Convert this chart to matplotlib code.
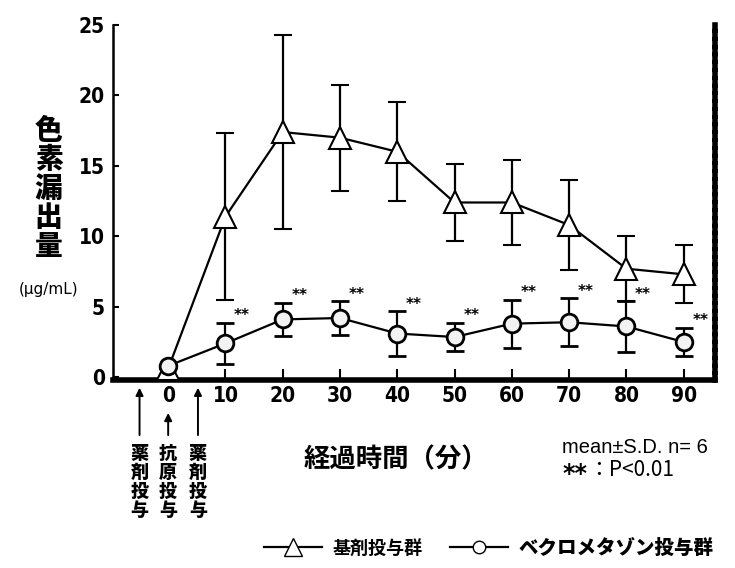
import matplotlib.pyplot as plt
from matplotlib.lines import Line2D

# data
times = [0, 10, 20, 30, 40, 50, 60, 70, 80, 90]
base_mean = [0.6, 11.4, 17.4, 17.0, 16.0, 12.4, 12.4, 10.8, 7.7, 7.3]
base_sd = [0.0, 5.9, 6.9, 3.75, 3.5, 2.7, 3.0, 3.2, 2.3, 2.05]
becl_mean = [0.8, 2.4, 4.1, 4.2, 3.1, 2.85, 3.8, 3.9, 3.6, 2.5]
becl_sd = [0.0, 1.45, 1.2, 1.2, 1.6, 1.0, 1.7, 1.7, 1.8, 1.0]
sig_times = [10, 20, 30, 40, 50, 60, 70, 80, 90]

arrow_x = [-5.0, 0, 5.2]
arrow_labels = ["薬剤投与", "抗原投与", "薬剤投与"]

jp = ["Noto Sans CJK JP", "DejaVu Sans"]
num = ["DejaVu Sans"]

fig = plt.figure(figsize=(7.35, 5.68), dpi=100)
ax = fig.add_axes([0.154, 0.331, 0.819, 0.625])

ax.errorbar(times, base_mean, yerr=base_sd, color="black", lw=1.6,
            elinewidth=1.6, capsize=6.5, capthick=1.6,
            marker="^", markersize=16, markerfacecolor="white",
            markeredgecolor="black", markeredgewidth=1.5, zorder=3)
ax.errorbar(times, becl_mean, yerr=becl_sd, color="black", lw=1.6,
            elinewidth=1.6, capsize=6.5, capthick=1.6,
            marker="o", markersize=12, markerfacecolor="#f2f2f2",
            markeredgecolor="black", markeredgewidth=2, zorder=4)

for t in sig_times:
    i = times.index(t)
    ax.annotate("**", (t, becl_mean[i] + becl_sd[i]), xytext=(12, 5),
                textcoords="offset points", ha="center", va="center",
                fontsize=11, fontweight="bold", family=num)

ax.set_xlim(-9.6, 95.5)
ax.set_ylim(-0.2, 25)
ax.set_xticks(times)
ax.set_yticks([0, 5, 10, 15, 20, 25])
ax.tick_params(axis="both", direction="in", width=1.5, labelsize=15)
ax.tick_params(axis="x", length=8, pad=4)
ax.tick_params(axis="y", length=4, pad=6)
for lab in ax.get_xticklabels() + ax.get_yticklabels():
    lab.set_family(num)
    lab.set_fontweight("bold")
    lab.set_fontstretch("condensed")

ax.spines["top"].set_visible(False)
ax.spines["left"].set_linewidth(1.8)
ax.spines["bottom"].set_linewidth(4)
ax.spines["right"].set_linewidth(4)
ax.spines["right"].set_linestyle((0, (1, 0.4)))

# arrows for drug / antigen administration
xt = ax.get_xaxis_transform()
for x, lab in zip(arrow_x, arrow_labels):
    top = -0.085 if x == 0 else -0.014
    ax.annotate("", xy=(x, top), xycoords=xt, xytext=(x, -0.163),
                textcoords=xt, annotation_clip=False,
                arrowprops=dict(arrowstyle="-|>", color="black", lw=1.4,
                                mutation_scale=11))
    ax.text(x, -0.18, "\n".join(lab), transform=xt, ha="center", va="top",
            fontsize=13, fontweight="heavy", family=jp, linespacing=1.0)

fig.text(0.066, 0.667, "\n".join("色素漏出量"), ha="center", va="center",
         fontsize=20, fontweight="heavy", family=jp, linespacing=1.02)
fig.text(0.066, 0.49, "(µg/mL)", ha="center", va="center", fontsize=11,
         family=num)

fig.text(0.538, 0.19, "経過時間（分）", ha="center", va="center",
         fontsize=19, fontweight="bold", family=jp)
fig.text(0.765, 0.212, "mean±S.D. n= 6", ha="left", va="center",
         fontsize=14.5, family=["Liberation Sans", "DejaVu Sans"])
fig.text(0.765, 0.154, "**", ha="left", va="baseline", fontsize=17,
         fontweight="bold", family=num)
fig.text(0.800, 0.172, "：P<0.01", ha="left", va="center",
         fontsize=15, family=jp)

h1 = Line2D([], [], color="black", lw=1.6, marker="^", markersize=13,
            markerfacecolor="white", markeredgecolor="black")
h2 = Line2D([], [], color="black", lw=1.6, marker="o", markersize=9,
            markerfacecolor="white", markeredgecolor="black")
leg = fig.legend([h1, h2], ["基剤投与群", "ベクロメタゾン投与群"], ncol=2,
                 loc="center", bbox_to_anchor=(0.665, 0.035), frameon=False,
                 handlelength=3.2, columnspacing=1.5, handletextpad=0.6,
                 prop=dict(family=jp, weight="bold", size=13))
leg.get_texts()[1].set_fontweight("heavy")
leg.get_texts()[1].set_fontsize(14)

fig.savefig("out.png", dpi=100)
